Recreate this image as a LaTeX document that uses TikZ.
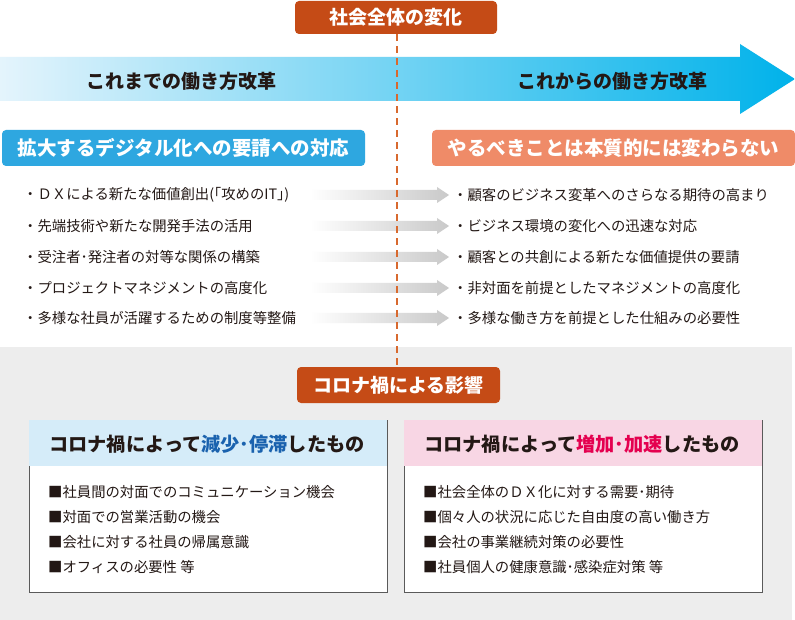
\documentclass[tikz,border=0pt]{standalone}
\usepackage{fontspec}
\setmainfont{Noto Sans CJK JP}
\definecolor{rust}{HTML}{C54B16}
\definecolor{dashc}{HTML}{D8692E}
\definecolor{bluebox}{HTML}{2EA7E0}
\definecolor{salmon}{HTML}{EF8B68}
\definecolor{arrowL}{HTML}{E4F4FC}
\definecolor{arrowR}{HTML}{00B2EA}
\definecolor{graybg}{HTML}{EDEDED}
\definecolor{hdrblue}{HTML}{D5ECF9}
\definecolor{hdrpink}{HTML}{F8D6E4}
\definecolor{embblue}{HTML}{1A62AE}
\definecolor{embpink}{HTML}{E4004F}
\definecolor{ink}{HTML}{231815}
\definecolor{frame}{HTML}{5A5A5A}
\definecolor{grayarrow}{HTML}{C9C9C9}
\newcommand{\fs}[1]{\fontsize{#1}{#1}\selectfont}
\begin{document}
\begin{tikzpicture}[x=1pt,y=-1pt,
  tagbox/.style={rounded corners=4pt, text=white, inner sep=0pt, font=\bfseries\fs{19}},
  listitem/.style={anchor=west, inner sep=0pt, text=ink, font=\fs{14.35}},
  flowtext/.style={inner sep=0pt, text=ink, font=\bfseries\fs{19}},
  hdrtext/.style={inner sep=0pt, text=ink, font=\bfseries\fs{19.2}},
  panel/.style={draw=frame, line width=0.9pt, fill=white},
  divider/.style={dashc, line width=1.5pt, dash pattern=on 7pt off 5pt},
  grayarr/.style={left color=white, right color=grayarrow, draw=none}
]
\useasboundingbox (0,0) rectangle (795,620);
\fill[white] (0,0) rectangle (795,620);
% gray background
\fill[graybg] (0,347) rectangle (792,620);

% big arrow
\shade[left color=arrowL, right color=arrowR]
  (0,57) -- (740,57) -- (740,44) -- (795,79) -- (740,114) -- (740,101) -- (0,101) -- cycle;
\node[flowtext] (past) at (181,81) {これまでの働き方改革};
\node[flowtext] (future) at (612.5,81) {これからの働き方改革};

% gray arrows
\foreach \yy in {195,226,257,288,318}{
  \shade[grayarr] (310,\yy-5) -- (437,\yy-5) -- (437,\yy-8) -- (449,\yy) -- (437,\yy+8) -- (437,\yy+5) -- (310,\yy+5) -- cycle;
}

% title boxes
\node[tagbox, fill=rust, minimum width=202pt, minimum height=33pt] (title) at (396,17.5) {社会全体の変化};
\node[tagbox, fill=bluebox, minimum width=363pt, minimum height=36pt, font=\bfseries\fs{19.5}] (leftHead) at (183.5,148) {拡大するデジタル化への要請への対応};
\node[tagbox, fill=salmon, minimum width=363pt, minimum height=36pt, font=\bfseries\fs{19.5}] (rightHead) at (613.5,148) {やるべきことは本質的には変わらない};

% lists
\node[listitem] (l1) at (23,195) {・ＤＸによる新たな価値創出(｢攻めのIT｣)};
\node[listitem] (l2) at (23,226) {・先端技術や新たな開発手法の活用};
\node[listitem] (l3) at (23,257) {・受注者･発注者の対等な関係の構築};
\node[listitem] (l4) at (23,288) {・プロジェクトマネジメントの高度化};
\node[listitem] (l5) at (23,318) {・多様な社員が活躍するための制度等整備};

\node[listitem] (r1) at (453,195) {・顧客のビジネス変革へのさらなる期待の高まり};
\node[listitem] (r2) at (453,226) {・ビジネス環境の変化への迅速な対応};
\node[listitem] (r3) at (453,257) {・顧客との共創による新たな価値提供の要請};
\node[listitem] (r4) at (453,288) {・非対面を前提としたマネジメントの高度化};
\node[listitem] (r5) at (453,318) {・多様な働き方を前提とした仕組みの必要性};

% corona box
\node[tagbox, fill=rust, minimum width=203pt, minimum height=36pt] (corona) at (398.5,385) {コロナ禍による影響};

% divider
\draw[divider] (title.south -| 397,0) -- (corona.north -| 397,0);

% panels
\draw[panel] (29,420) rectangle (387.5,592);
\fill[hdrblue] (29.45,420.45) rectangle (387.05,466);
\node[hdrtext] (decHead) at (207,444) {コロナ禍によって{\color{embblue}減少･停滞}したもの};
\node[listitem] (d1) at (48,492) {■社員間の対面でのコミュニケーション機会};
\node[listitem] (d2) at (48,517) {■対面での営業活動の機会};
\node[listitem] (d3) at (48,542) {■会社に対する社員の帰属意識};
\node[listitem] (d4) at (48,567) {■オフィスの必要性 等};

\draw[panel] (404,420) rectangle (762,592);
\fill[hdrpink] (404.45,420.45) rectangle (761.55,466);
\node[hdrtext] (incHead) at (582,444) {コロナ禍によって{\color{embpink}増加･加速}したもの};
\node[listitem] (i1) at (423,492) {■社会全体のＤＸ化に対する需要･期待};
\node[listitem] (i2) at (423,517) {■個々人の状況に応じた自由度の高い働き方};
\node[listitem] (i3) at (423,542) {■会社の事業継続対策の必要性};
\node[listitem] (i4) at (423,567) {■社員個人の健康意識･感染症対策 等};
\end{tikzpicture}
\end{document}
